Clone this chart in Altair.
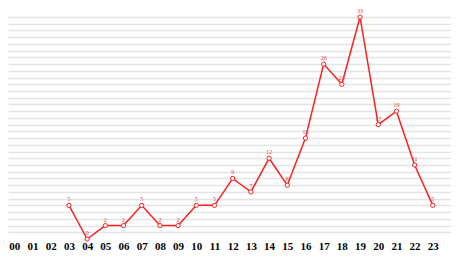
import altair as alt
import pandas as pd

hours = ["03", "04", "05", "06", "07", "08", "09", "10", "11", "12", "13",
         "14", "15", "16", "17", "18", "19", "20", "21", "22", "23"]
counts = [5, 0, 2, 2, 5, 2, 2, 5, 5, 9, 7, 12, 8, 15, 26, 23, 33, 17, 19, 11, 5]

df = pd.DataFrame({"hour": hours, "h": [int(x) for x in hours], "count": counts})

RED = "#ff2020"

x = alt.X("h:Q", scale=alt.Scale(domain=[-0.35, 24], nice=False, zero=False),
          axis=alt.Axis(values=list(range(24)), title=None, grid=False, ticks=False,
                        domain=False, labelFlush=False, labelPadding=1, labelOverlap=False,
                        labelFont="Liberation Serif", labelFontSize=11, labelColor="#000",
                        labelFontWeight="bold", labelBaseline="top",
                        labelExpr="datum.value < 10 ? '0' + datum.value : '' + datum.value"))
y = alt.Y("count:Q", scale=alt.Scale(domain=[0, 33], nice=False),
          axis=alt.Axis(values=list(range(1, 34)), title=None, labels=False, ticks=False,
                        labelOverlap=False, domain=False, grid=True,
                        gridColor="#e4e4e4", gridWidth=1.5))

base = alt.Chart(df)
line = base.mark_line(color=RED, strokeWidth=1.5).encode(x=x, y=y)
pts = base.mark_point(shape="circle", filled=True, fill="white", stroke=RED,
                      strokeWidth=1, size=18, opacity=1).encode(x=x, y=y)
txt = base.mark_text(dy=-6, fontSize=6, font="Liberation Serif", color="#e04848").encode(
    x=x, y=y, text="count:Q")

chart = alt.layer(line, pts, txt).properties(
    width=443, height=222,
    autosize=alt.AutoSizeParams(type="none"),
    padding={"left": 0, "right": 0, "top": 9, "bottom": 12},
).configure_view(stroke=None)

chart.save("out.html", embed_options={"renderer": "svg", "actions": False})
